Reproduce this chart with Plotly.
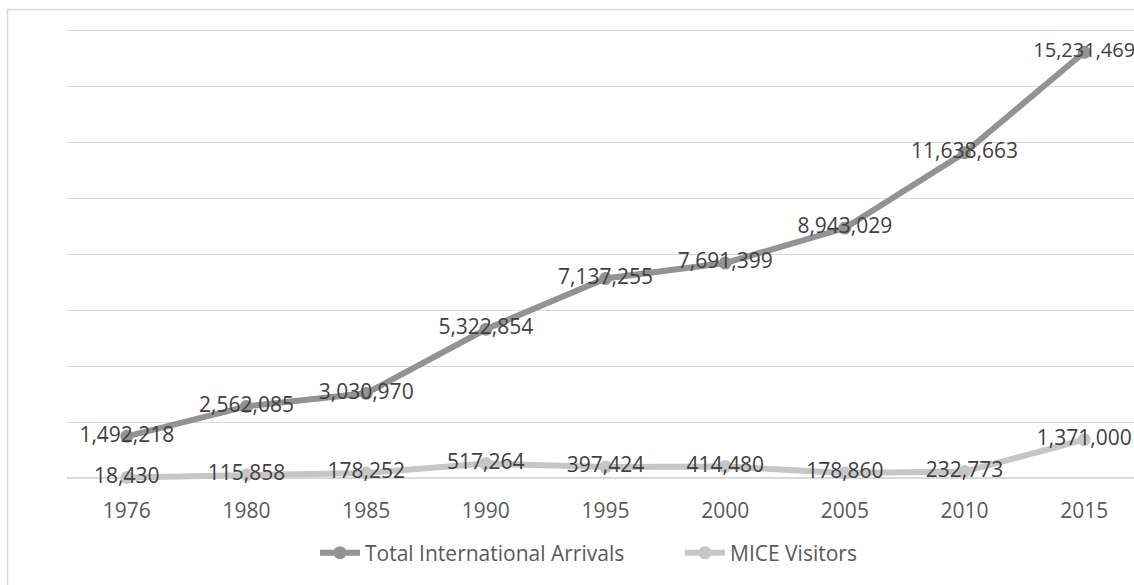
import plotly.graph_objects as go

years = ["1976", "1980", "1985", "1990", "1995", "2000", "2005", "2010", "2015"]
total_arrivals = [1492218, 2562085, 3030970, 5322854, 7137255, 7691399, 8943029, 11638663, 15231469]
mice_visitors = [18430, 115858, 178252, 517264, 397424, 414480, 178860, 232773, 1371000]

FONT = "Open Sans"
W, H = 1134, 585
ML, MR, MT, MB = 67, 0, 25, 95
pw = W - ML - MR
ph = H - MT - MB
PX_PER = 27.95e-6          # pixels per visitor
AXIS_Y = 478               # pixel row of value 0
ymin = -(H - MB - AXIS_Y) / PX_PER
ymax = ymin + ph / PX_PER

def py(pix):
    """pixel row -> paper y"""
    return (H - MB - pix) / ph

def px(pix):
    """pixel column -> paper x"""
    return (pix - ML) / pw

# last label sits at the right edge; slightly smaller so it stays on the page
total_label_sizes = [21] * (len(years) - 1) + [20]

fig = go.Figure()
fig.add_trace(go.Scatter(
    x=years, y=total_arrivals, name="Total International Arrivals",
    mode="lines+markers+text",
    line=dict(color="#939393", width=6),
    marker=dict(color="#939393", size=13),
    texttemplate="%{y:,}", textposition="middle center",
    textfont=dict(family=FONT, size=total_label_sizes, color="#404040"),
    cliponaxis=False,
))
fig.add_trace(go.Scatter(
    x=years, y=mice_visitors, name="MICE Visitors",
    mode="lines+markers+text",
    line=dict(color="#c6c6c6", width=6),
    marker=dict(color="#c6c6c6", size=13),
    texttemplate="%{y:,}", textposition="middle center",
    textfont=dict(family=FONT, size=21, color="#404040"),
    cliponaxis=False,
))

# outer chart border (decoration)
fig.add_shape(type="rect", xref="paper", yref="paper",
              x0=px(7.5), x1=1.05,
              y0=py(600), y1=py(9.5),
              line=dict(color="#d9d9d9", width=1.5), layer="below")

fig.update_layout(
    width=W, height=H,
    margin=dict(l=ML, r=MR, t=MT, b=MB, pad=0, autoexpand=False),
    paper_bgcolor="white", plot_bgcolor="white",
    font=dict(family=FONT, size=21, color="#595959"),
    showlegend=True,
    legend=dict(orientation="h", x=px(315), xanchor="left",
                y=py(553), yanchor="middle",
                font=dict(family=FONT, size=21, color="#595959"),
                bgcolor="rgba(0,0,0,0)", itemwidth=40,
                entrywidth=310, entrywidthmode="pixels"),
    xaxis=dict(type="category", range=[-0.5, 8.416], showgrid=False,
               showline=False, ticks="",
               tickfont=dict(family=FONT, size=21, color="#595959"),
               ticklabelstandoff=6),
    yaxis=dict(range=[ymin, ymax], tick0=0, dtick=2000000, showgrid=True,
               gridcolor="#d9d9d9", gridwidth=1.3, showticklabels=False,
               zeroline=True, zerolinecolor="#d9d9d9", zerolinewidth=1.5,
               showline=False, ticks="", layer="below traces"),
)

fig.write_html("out.html")
